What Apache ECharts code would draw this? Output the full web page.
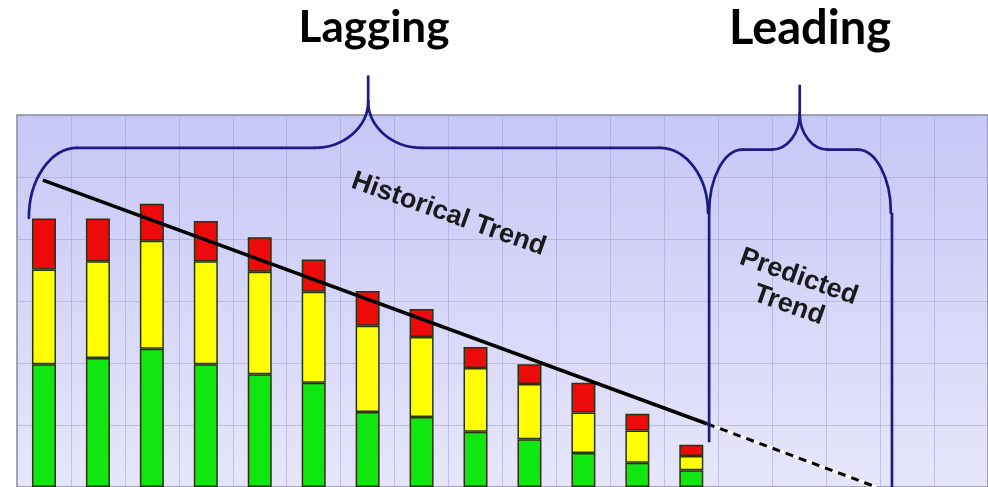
<!DOCTYPE html>
<html>
<head>
<meta charset="utf-8">
<script src="https://cdn.jsdelivr.net/npm/echarts@6/dist/echarts.min.js"></script>
<style>
html,body{margin:0;padding:0;background:#fff;}
#chart{width:988px;height:487px;}
</style>
</head>
<body>
<div id="chart"></div>
<script>
// ---- data ----
const periods = ['1', '2', '3', '4', '5', '6', '7', '8', '9', '10', '11', '12', '13', '14', '15', '16', '17', '18'];
const green  = [1.98, 2.08, 2.23, 1.98, 1.82, 1.68, 1.21, 1.13, 0.89, 0.77, 0.55, 0.39, 0.27];
const yellow = [1.53, 1.56, 1.74, 1.66, 1.65, 1.47, 1.39, 1.29, 1.03, 0.89, 0.65, 0.52, 0.23];
const red    = [0.82, 0.69, 0.60, 0.65, 0.56, 0.52, 0.56, 0.45, 0.34, 0.32, 0.48, 0.27, 0.18];
const historicalTrend = [[0.98, 4.95], [13.29, 1.02]];
const predictedTrend  = [[13.29, 1.02], [16.43, 0]];
// braces: [x0, x1, xPeak, yEndLeft, yEndRight, yHoriz, yPeakCurve, yTop, cornerRx, peakHalfWidth]
const braces = [
  [0.72, 13.31, 7.01, 4.34, 4.42, 5.47, 6.22, 6.62, 0.90, 1.00],
  [13.33, 16.70, 15.01, 4.42, 4.42, 5.44, 6.02, 6.47, 0.62, 0.52]
];
const dividerLagging = [[13.33, 4.42], [13.33, 0.72]];
const dividerLeading = [[16.72, 4.42], [16.72, 0]];
const headings = ['Lagging', 'Leading'];
const notes = [
  [8.50, 4.40, 'Historical Trend'],
  [14.90, 3.16, 'Predicted\nTrend']
];

const chart = echarts.init(document.getElementById('chart'), null, {renderer: 'canvas'});

const barBorder = {borderColor: '#2b3310', borderWidth: 1.5};
const braceColor = '#1c1c86';

function renderBrace(params, api) {
  const v = i => api.value(i);
  const x0 = v(0), x1 = v(1), xp = v(2), yb0 = v(3), yb1 = v(4), yh = v(5), yq = v(6), yt = v(7), rx = v(8), pw = v(9);
  const P = (x, y) => api.coord([x, y]);
  const A = P(x0, yb0), B = P(x0 + rx, yh), C = P(xp - pw, yh), Q = P(xp, yq), T = P(xp, yt),
        D = P(xp + pw, yh), E = P(x1 - rx, yh), F = P(x1, yb1);
  const k = 0.5523;
  const st = {stroke: braceColor, lineWidth: 2.7, fill: null, lineCap: 'round'};
  const bez = (p0, c1, c2, p1) => ({type: 'bezierCurve', shape: {x1: p0[0], y1: p0[1], x2: p1[0], y2: p1[1], cpx1: c1[0], cpy1: c1[1], cpx2: c2[0], cpy2: c2[1]}, style: st});
  const line = (p0, p1) => ({type: 'line', shape: {x1: p0[0], y1: p0[1], x2: p1[0], y2: p1[1]}, style: st});
  return {
    type: 'group',
    children: [
      bez(A, [A[0], A[1] - k * (A[1] - B[1])], [B[0] - k * (B[0] - A[0]), B[1]], B),
      line(B, C),
      bez(C, [C[0] + k * (Q[0] - C[0]), C[1]], [Q[0], Q[1] + k * (C[1] - Q[1])], Q),
      line(Q, T),
      bez(Q, [Q[0], Q[1] + k * (D[1] - Q[1])], [D[0] - k * (D[0] - Q[0]), D[1]], D),
      line(D, E),
      bez(E, [E[0] + k * (F[0] - E[0]), E[1]], [F[0], F[1] - k * (F[1] - E[1])], F)
    ]
  };
}

const hidden = {axisLine: {show: false}, axisTick: {show: false}, axisLabel: {show: false}};
const gridLine = {show: true, lineStyle: {color: 'rgba(150,150,205,0.45)', width: 1}};

const option = {
  animation: false,
  backgroundColor: '#ffffff',
  grid: {
    left: 17, top: 115, width: 981, height: 372,
    show: true,
    borderColor: '#8c8c9c', borderWidth: 1.5,
    backgroundColor: new echarts.graphic.LinearGradient(0, 0, 0, 1, [
      {offset: 0, color: '#c7c7f7'},
      {offset: 1, color: '#e6e6fa'}
    ])
  },
  xAxis: [
    Object.assign({type: 'category', data: periods, boundaryGap: true, splitLine: {show: false}}, hidden),
    Object.assign({type: 'value', min: 0.5, max: 18.5, interval: 1, splitLine: gridLine}, hidden)
  ],
  yAxis: Object.assign({type: 'value', min: 0, max: 6, interval: 1, splitLine: gridLine}, hidden),
  graphic: headings.map((t, i) => ({
    type: 'text', x: i === 0 ? 374 : 810, y: i === 0 ? 28 : 29,
    style: {text: t, font: (i === 0 ? 'bold 44px' : 'bold 47px') + ' Lato', fill: '#000', align: 'center', verticalAlign: 'middle'}
  })),
  series: [
    {type: 'bar', name: 'green', stack: 's', barWidth: 24, xAxisIndex: 0, data: green,
      itemStyle: Object.assign({color: '#10e610'}, barBorder)},
    {type: 'bar', name: 'yellow', stack: 's', barWidth: 24, xAxisIndex: 0, data: yellow,
      itemStyle: Object.assign({color: '#ffff00'}, barBorder)},
    {type: 'bar', name: 'red', stack: 's', barWidth: 24, xAxisIndex: 0, data: red,
      itemStyle: Object.assign({color: '#ec0a0a'}, barBorder)},
    {type: 'line', xAxisIndex: 1, data: historicalTrend, showSymbol: false, symbol: 'none',
      lineStyle: {color: '#000', width: 3.5}, z: 5},
    {type: 'line', xAxisIndex: 1, data: predictedTrend, showSymbol: false, symbol: 'none',
      lineStyle: {color: '#ffffff', width: 3}, z: 5},
    {type: 'line', xAxisIndex: 1, data: predictedTrend, showSymbol: false, symbol: 'none',
      lineStyle: {color: '#000', width: 3, type: [8, 6]}, z: 6},
    {type: 'line', xAxisIndex: 1, data: dividerLagging, showSymbol: false, symbol: 'none',
      lineStyle: {color: braceColor, width: 2.7}, z: 7},
    {type: 'line', xAxisIndex: 1, data: dividerLeading, showSymbol: false, symbol: 'none',
      lineStyle: {color: braceColor, width: 2.7}, z: 7},
    {type: 'custom', xAxisIndex: 1, renderItem: renderBrace, data: braces, clip: false, z: 7,
      encode: {x: [0, 1, 2], y: [3, 4, 5, 6, 7]}},
    {type: 'scatter', xAxisIndex: 1, data: notes, symbolSize: 0, z: 8, silent: true,
      itemStyle: {opacity: 1},
      label: {show: true, position: 'inside', rotate: -19.5, opacity: 1,
        formatter: p => p.data[2],
        fontFamily: 'Liberation Sans', fontWeight: 'bold', fontSize: 27, lineHeight: 30,
        color: '#1a1a1a', align: 'center', verticalAlign: 'middle'}}
  ]
};
chart.setOption(option);
</script>
</body>
</html>
